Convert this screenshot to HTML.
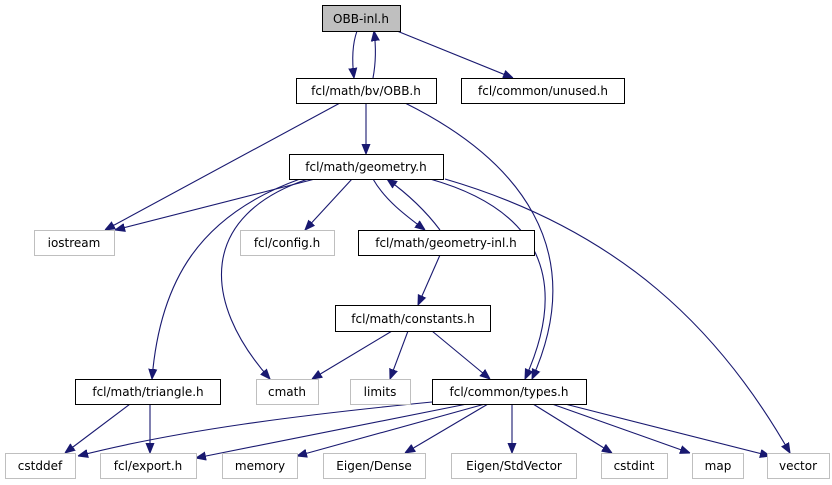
<!DOCTYPE html>
<html><head><meta charset="utf-8"><style>
html,body{margin:0;padding:0;background:#fff;}
svg{display:block;}
text{font-family:"DejaVu Sans","Liberation Sans",sans-serif;font-size:12px;fill:#000;}
</style></head><body>
<svg width="832" height="485" viewBox="0 0 832 485" xmlns="http://www.w3.org/2000/svg">
<defs>
<marker id="a" viewBox="0 0 10 10" refX="10" refY="5" markerWidth="10" markerHeight="10" markerUnits="userSpaceOnUse" orient="auto">
<path d="M0,1 L10,5 L0,9 z" fill="#191970" stroke="#191970"/>
</marker>
</defs>
<g fill="none" stroke="#191970" stroke-width="1.1" marker-end="url(#a)">
<path d="M357,31 C352,45 352,62 354,78"/>
<path d="M373,78 C376,62 376,46 374,31"/>
<path d="M397,31 L513,78"/>
<path d="M340,103 L105,230"/>
<path d="M366,103 L366,154"/>
<path d="M405,103 C520,160 590,250 532,379"/>
<path d="M315,179 L115,230"/>
<path d="M352,179 L305,230"/>
<path d="M373,179 C385,200 405,215 425,230"/>
<path d="M440,230 C425,210 405,192 387,179"/>
<path d="M440,255 L418,305"/>
<path d="M300,179 C200,215 160,280 152,379"/>
<path d="M308,179 C200,215 200,300 270,379"/>
<path d="M430,179 C540,210 570,280 525,379"/>
<path d="M445,179 C620,230 720,330 790,453"/>
<path d="M392,331 L312,379"/>
<path d="M408,331 L390,379"/>
<path d="M432,331 L490,379"/>
<path d="M130,404 L65,453"/>
<path d="M150,404 L150,453"/>
<path d="M432,402 C300,415 180,430 78,456"/>
<path d="M467,404 L196,458"/>
<path d="M485,404 L297,456"/>
<path d="M488,404 L405,453"/>
<path d="M512,404 L512,453"/>
<path d="M533,404 L612,453"/>
<path d="M552,404 L690,453"/>
<path d="M565,404 L770,456"/>
</g>
<g stroke-width="1">
<rect x="322.5" y="5.5" width="78" height="26" fill="#bfbfbf" stroke="#000"/>
<rect x="296.5" y="78.5" width="140" height="25" fill="#fff" stroke="#000"/>
<rect x="461.5" y="78.5" width="163" height="25" fill="#fff" stroke="#000"/>
<rect x="289.5" y="154.5" width="154" height="25" fill="#fff" stroke="#000"/>
<rect x="34.5" y="230.5" width="80" height="25" fill="#fff" stroke="#bfbfbf"/>
<rect x="240.5" y="230.5" width="94" height="25" fill="#fff" stroke="#bfbfbf"/>
<rect x="358.5" y="230.5" width="176" height="25" fill="#fff" stroke="#000"/>
<rect x="335.5" y="305.5" width="155" height="26" fill="#fff" stroke="#000"/>
<rect x="75.5" y="379.5" width="145" height="25" fill="#fff" stroke="#000"/>
<rect x="256.5" y="379.5" width="62" height="25" fill="#fff" stroke="#bfbfbf"/>
<rect x="350.5" y="379.5" width="60" height="25" fill="#fff" stroke="#bfbfbf"/>
<rect x="432.5" y="379.5" width="154" height="25" fill="#fff" stroke="#000"/>
<rect x="5.5" y="453.5" width="70" height="25" fill="#fff" stroke="#bfbfbf"/>
<rect x="100.5" y="453.5" width="96" height="25" fill="#fff" stroke="#bfbfbf"/>
<rect x="222.5" y="453.5" width="75" height="25" fill="#fff" stroke="#bfbfbf"/>
<rect x="323.5" y="453.5" width="102" height="25" fill="#fff" stroke="#bfbfbf"/>
<rect x="451.5" y="453.5" width="125" height="25" fill="#fff" stroke="#bfbfbf"/>
<rect x="601.5" y="453.5" width="66" height="25" fill="#fff" stroke="#bfbfbf"/>
<rect x="692.5" y="453.5" width="51" height="25" fill="#fff" stroke="#bfbfbf"/>
<rect x="767.5" y="453.5" width="62" height="25" fill="#fff" stroke="#bfbfbf"/>
</g>
<g text-anchor="middle">
<text x="361" y="23">OBB-inl.h</text>
<text x="366" y="95">fcl/math/bv/OBB.h</text>
<text x="543" y="95">fcl/common/unused.h</text>
<text x="366" y="171">fcl/math/geometry.h</text>
<text x="74" y="247">iostream</text>
<text x="287" y="247">fcl/config.h</text>
<text x="446" y="247">fcl/math/geometry-inl.h</text>
<text x="413" y="323">fcl/math/constants.h</text>
<text x="148" y="396">fcl/math/triangle.h</text>
<text x="287" y="396">cmath</text>
<text x="380" y="396">limits</text>
<text x="509" y="396">fcl/common/types.h</text>
<text x="40" y="470">cstddef</text>
<text x="148" y="470">fcl/export.h</text>
<text x="260" y="470">memory</text>
<text x="374" y="470">Eigen/Dense</text>
<text x="514" y="470">Eigen/StdVector</text>
<text x="634" y="470">cstdint</text>
<text x="718" y="470">map</text>
<text x="798" y="470">vector</text>
</g>
</svg>
</body></html>
